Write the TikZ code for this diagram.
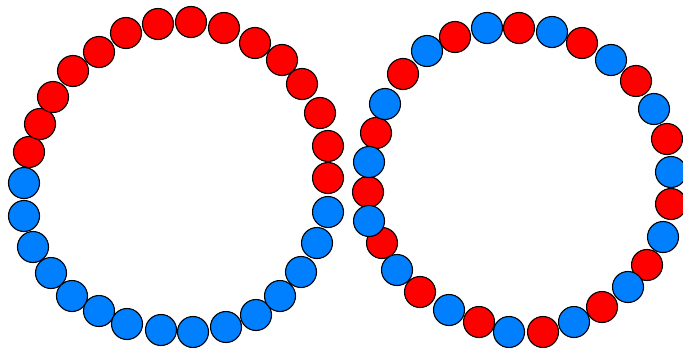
\documentclass[tikz,border=0pt]{standalone}
\definecolor{ballred}{RGB}{255,0,0}
\definecolor{ballblue}{RGB}{0,128,255}
\tikzset{
  ball/.style={circle, draw=black, line width=1.1pt, minimum size=31pt, inner sep=0pt, outer sep=0pt},
  redball/.style={ball, fill=ballred},
  blueball/.style={ball, fill=ballblue}
}
\begin{document}
\begin{tikzpicture}[x=1pt,y=-1pt]
\useasboundingbox (0,0) rectangle (683,348);
\clip (0,0) rectangle (683,348);
% left ring, red half
\foreach \x/\y [count=\i] in {29/152,40/124,53/97,73/71,99/52,126/33,158/24,191/22,224/28,255/43,282/60,302/84,320/113,328/146,328/178}
  \node[redball] (LR\i) at (\x,\y) {};
% left ring, blue half
\foreach \x/\y [count=\i] in {24/183,24/216,33/247,51/273,72/296,99/311,127/324,161/330,193/332,226/327,256/315,280/296,301/272,317/243,328/212}
  \node[blueball] (LB\i) at (\x,\y) {};
% right ring, red
\foreach \x/\y [count=\i] in {376/133,403/74,455/37,519/28,582/43,636/81,667/139,671/204,647/265,602/307,543/332,479/322,420/292,382/243,368/192}
  \node[redball] (RR\i) at (\x,\y) {};
% right ring, blue
\foreach \x/\y [count=\i] in {369/162,385/104,427/51,487/28,552/32,611/60,654/109,671/172,663/237,628/287,574/322,509/332,449/310,397/270,369/221}
  \node[blueball] (RB\i) at (\x,\y) {};
\end{tikzpicture}
\end{document}
